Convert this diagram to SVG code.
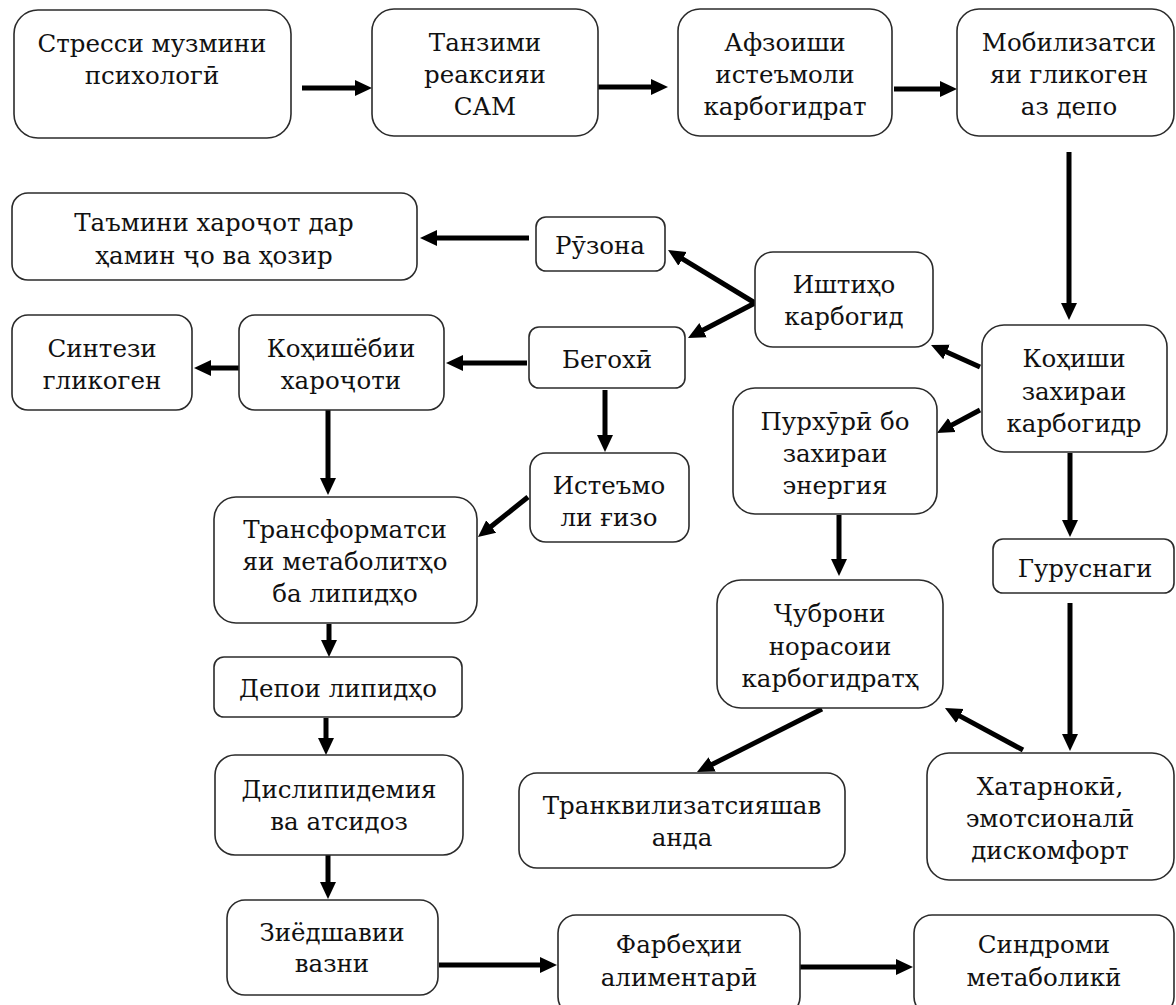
<svg xmlns="http://www.w3.org/2000/svg" width="1176" height="1005" viewBox="0 0 1176 1005">
<defs>
<style>
.box{fill:#fff;stroke:#2b2b2b;stroke-width:1.6}
.t{font-family:'DejaVu Serif',serif;font-size:24.5px;fill:#111;text-anchor:middle}
.a{stroke:#000;stroke-width:5;fill:none;marker-end:url(#ah)}
</style>
<marker id="ah" markerUnits="userSpaceOnUse" markerWidth="18" markerHeight="18" refX="3" refY="8" orient="auto" viewBox="0 0 18 16">
<path d="M0,0 L17,8 L0,16 Z" fill="#000"/>
</marker>
</defs>
<rect width="1176" height="1005" fill="#fff"/>

<g id="connectors">
<line class="a" x1="302" y1="88" x2="358" y2="88"/>
<line class="a" x1="598" y1="87" x2="654" y2="87"/>
<line class="a" x1="894" y1="89" x2="943" y2="89"/>
<line class="a" x1="1069" y1="152" x2="1069" y2="306"/>
<line class="a" x1="529" y1="238" x2="434" y2="238"/>
<line class="a" x1="755" y1="303" x2="680" y2="257.3"/>
<line class="a" x1="755" y1="303" x2="700.4" y2="331.5"/>
<line class="a" x1="527" y1="363" x2="460" y2="363"/>
<line class="a" x1="241" y1="368" x2="208" y2="368"/>
<line class="a" x1="328" y1="410" x2="328" y2="481"/>
<line class="a" x1="605" y1="390" x2="605" y2="438"/>
<line class="a" x1="528" y1="497" x2="488.9" y2="528.3"/>
<line class="a" x1="980" y1="367" x2="943.8" y2="350.7"/>
<line class="a" x1="980" y1="410" x2="949.3" y2="426.4"/>
<line class="a" x1="1070" y1="453" x2="1070" y2="523"/>
<line class="a" x1="839" y1="515" x2="839" y2="562"/>
<line class="a" x1="1070" y1="603" x2="1070" y2="737"/>
<line class="a" x1="1023" y1="750" x2="957.3" y2="714.6"/>
<line class="a" x1="822" y1="709" x2="709.5" y2="765.7"/>
<line class="a" x1="329" y1="624" x2="329" y2="643"/>
<line class="a" x1="326" y1="718" x2="326" y2="741"/>
<line class="a" x1="328" y1="855" x2="328" y2="885"/>
<line class="a" x1="439" y1="965" x2="543" y2="965"/>
<line class="a" x1="800" y1="967" x2="899" y2="967"/>
</g>

<g id="n-stress"><rect class="box" x="14" y="10" width="277" height="128" rx="24"/>
<text class="t" x="152" y="52">Стресси музмини</text><text class="t" x="152" y="84">психологӣ</text></g>

<g id="n-tanzim"><rect class="box" x="372" y="9" width="226" height="127" rx="22"/>
<text class="t" x="485" y="51">Танзими</text><text class="t" x="485" y="83">реаксияи</text><text class="t" x="485" y="115">САМ</text></g>

<g id="n-afzoish"><rect class="box" x="678" y="9" width="214" height="127" rx="22"/>
<text class="t" x="785" y="51">Афзоиши</text><text class="t" x="785" y="83">истеъмоли</text><text class="t" x="785" y="115">карбогидрат</text></g>

<g id="n-mobil"><rect class="box" x="957" y="9" width="217" height="127" rx="22"/>
<text class="t" x="1069" y="51">Мобилизатси</text><text class="t" x="1069" y="83">яи гликоген</text><text class="t" x="1069" y="115">аз депо</text></g>

<g id="n-tamini"><rect class="box" x="12" y="193" width="405" height="87" rx="16"/>
<text class="t" x="214" y="231">Таъмини хароҷот дар</text><text class="t" x="214" y="264">ҳамин ҷо ва ҳозир</text></g>

<g id="n-ruzona"><rect class="box" x="536" y="217" width="129" height="54" rx="10"/>
<text class="t" x="600" y="254">Рӯзона</text></g>

<g id="n-ishtiho"><rect class="box" x="755" y="252" width="178" height="95" rx="18"/>
<text class="t" x="844" y="293">Иштиҳо</text><text class="t" x="844" y="325">карбогид</text></g>

<g id="n-sintez"><rect class="box" x="12" y="315" width="180" height="95" rx="16"/>
<text class="t" x="102" y="357">Синтези</text><text class="t" x="102" y="389">гликоген</text></g>

<g id="n-kohishyobii"><rect class="box" x="239" y="315" width="205" height="95" rx="16"/>
<text class="t" x="341" y="357">Коҳишёбии</text><text class="t" x="341" y="389">хароҷоти</text></g>

<g id="n-begohi"><rect class="box" x="529" y="327" width="156" height="61" rx="10"/>
<text class="t" x="607" y="368">Бегохӣ</text></g>

<g id="n-kohishi"><rect class="box" x="982" y="325" width="185" height="127" rx="22"/>
<text class="t" x="1074" y="367">Коҳиши</text><text class="t" x="1074" y="400">захираи</text><text class="t" x="1074" y="432">карбогидр</text></g>

<g id="n-purkhuri"><rect class="box" x="733" y="388" width="204" height="126" rx="22"/>
<text class="t" x="835" y="430">Пурхӯрӣ бо</text><text class="t" x="835" y="462">захираи</text><text class="t" x="835" y="494">энергия</text></g>

<g id="n-isteumo"><rect class="box" x="530" y="453" width="159" height="89" rx="16"/>
<text class="t" x="609" y="494">Истеъмо</text><text class="t" x="609" y="526">ли ғизо</text></g>

<g id="n-transform"><rect class="box" x="214" y="497" width="263" height="126" rx="22"/>
<text class="t" x="345" y="538">Трансформатси</text><text class="t" x="345" y="570">яи метаболитҳо</text><text class="t" x="345" y="602">ба липидҳо</text></g>

<g id="n-gurusnagi"><rect class="box" x="993" y="539" width="181" height="54" rx="10"/>
<text class="t" x="1085" y="577">Гуруснаги</text></g>

<g id="n-jubroni"><rect class="box" x="717" y="580" width="226" height="128" rx="24"/>
<text class="t" x="830" y="622">Ҷуброни</text><text class="t" x="830" y="655">норасоии</text><text class="t" x="830" y="687">карбогидратҳ</text></g>

<g id="n-depoi"><rect class="box" x="214" y="657" width="248" height="60" rx="10"/>
<text class="t" x="338" y="697">Депои липидҳо</text></g>

<g id="n-dislip"><rect class="box" x="215" y="755" width="248" height="100" rx="20"/>
<text class="t" x="339" y="798">Дислипидемия</text><text class="t" x="339" y="830">ва атсидоз</text></g>

<g id="n-khatar"><rect class="box" x="927" y="753" width="247" height="127" rx="22"/>
<text class="t" x="1050" y="795">Хатарнокӣ,</text><text class="t" x="1050" y="827">эмотсионалӣ</text><text class="t" x="1050" y="859">дискомфорт</text></g>

<g id="n-trankv"><rect class="box" x="519" y="773" width="326" height="95" rx="18"/>
<text class="t" x="682" y="814">Транквилизатсияшав</text><text class="t" x="682" y="846">анда</text></g>

<g id="n-ziyod"><rect class="box" x="227" y="900" width="211" height="95" rx="18"/>
<text class="t" x="332" y="941">Зиёдшавии</text><text class="t" x="332" y="972">вазни</text></g>

<g id="n-farbehi"><rect class="box" x="558" y="915" width="242" height="100" rx="18"/>
<text class="t" x="679" y="953">Фарбеҳии</text><text class="t" x="679" y="986">алиментарӣ</text></g>

<g id="n-sindromi"><rect class="box" x="914" y="915" width="260" height="100" rx="18"/>
<text class="t" x="1044" y="953">Синдроми</text><text class="t" x="1044" y="986">метаболикӣ</text></g>
</svg>
